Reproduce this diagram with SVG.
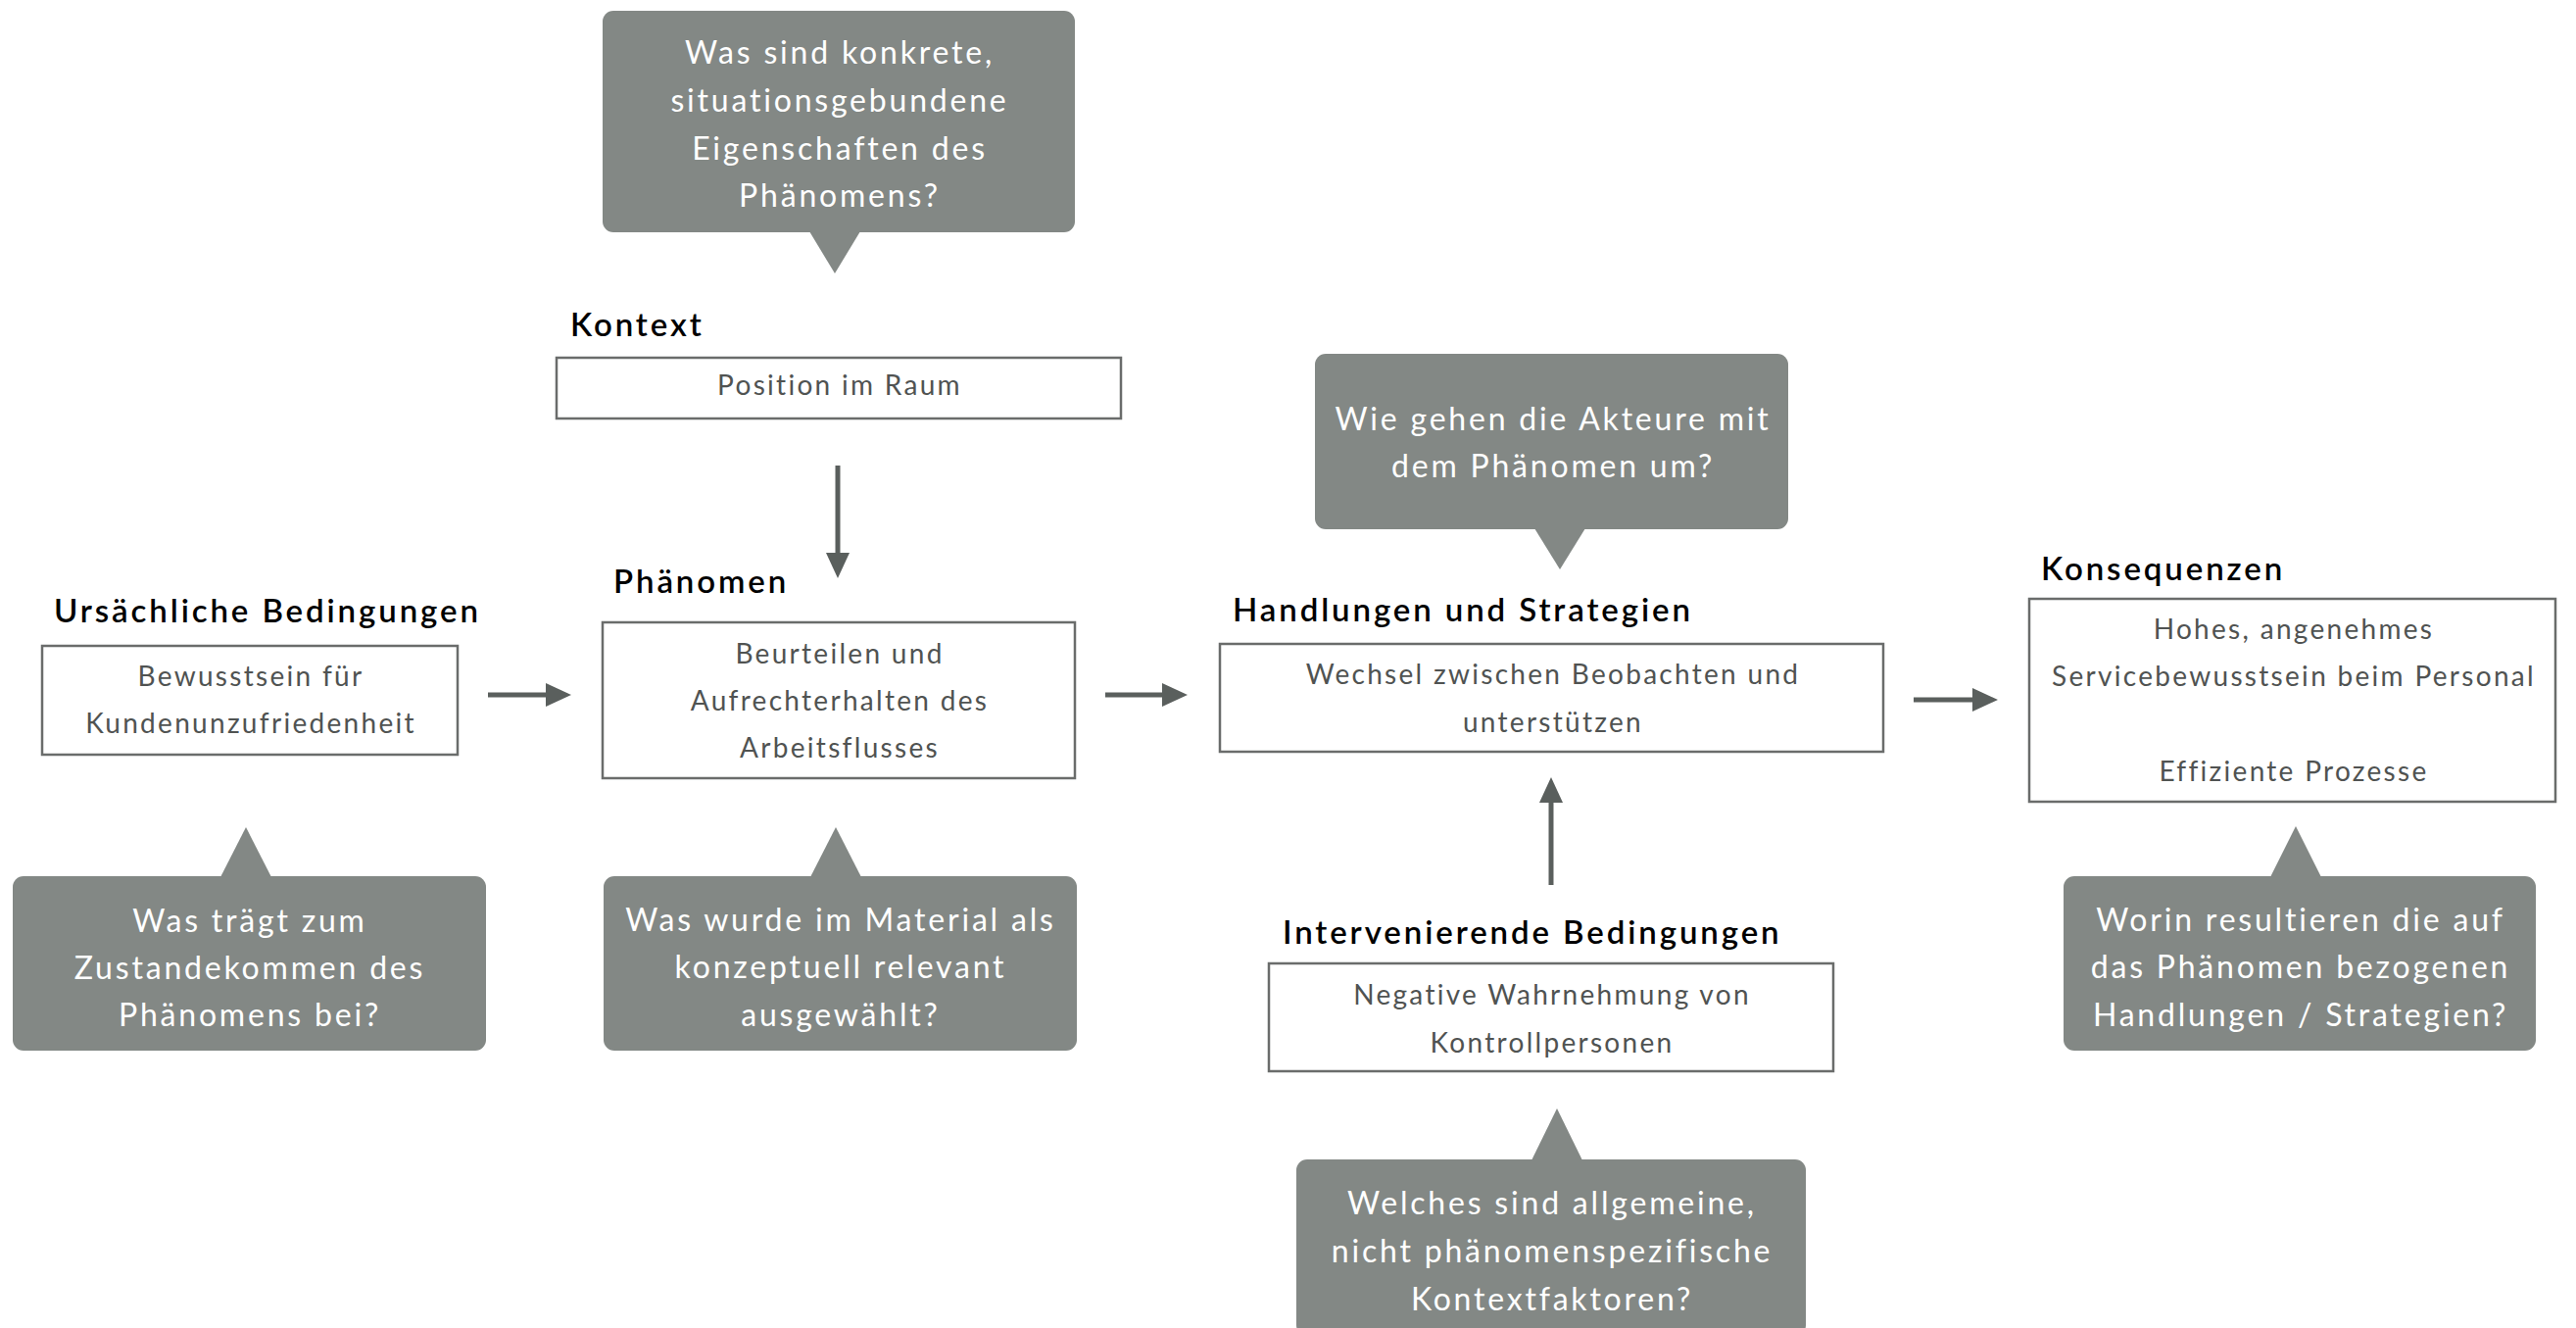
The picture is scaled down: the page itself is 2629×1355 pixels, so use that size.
<svg xmlns="http://www.w3.org/2000/svg" width="2629" height="1355" viewBox="0 0 2629 1355">
<defs>
<style>
.bubble{fill:#838885}
.bt{font-family:Lato,"Open Sans","DejaVu Sans",sans-serif;font-size:32px;fill:#ffffff;text-anchor:middle;letter-spacing:2.8px}
.box{fill:#ffffff;stroke:#6a6c6b;stroke-width:2.5}
.tt{font-family:Lato,"Open Sans","DejaVu Sans",sans-serif;font-size:28px;fill:#505352;text-anchor:middle;letter-spacing:2.3px}
.hd{font-family:Lato,"Open Sans","DejaVu Sans",sans-serif;font-size:33px;font-weight:600;fill:#000000;letter-spacing:2.9px}
.arr{stroke:#5a5f5d;stroke-width:5;fill:none;marker-end:url(#ah)}
</style>
<marker id="ah" markerUnits="userSpaceOnUse" markerWidth="28" markerHeight="26" refX="2" refY="12" orient="auto">
<path d="M0,0 L26,12 L0,24 z" fill="#5a5f5d"/>
</marker>
</defs>
<rect width="2629" height="1355" fill="#ffffff"/>

<g id="connectors">
<path class="arr" d="M855,475 V566"/>
<path class="arr" d="M498,709 H559"/>
<path class="arr" d="M1128,709 H1188"/>
<path class="arr" d="M1953,714 H2015"/>
<path class="arr" d="M1583,903 V817"/>
</g>

<g id="bubble-kontext">
<rect class="bubble" x="615" y="11" width="482" height="226" rx="11"/>
<path class="bubble" d="M826,236 L878,236 L852,279 z"/>
<text class="bt" x="857" y="65">Was sind konkrete,</text>
<text class="bt" x="857" y="114">situationsgebundene</text>
<text class="bt" x="857" y="163">Eigenschaften des</text>
<text class="bt" x="857" y="211">Phänomens?</text>
</g>

<g id="node-kontext">
<text class="hd" x="582" y="343">Kontext</text>
<rect class="box" x="568" y="365" width="576" height="62"/>
<text class="tt" x="857" y="403">Position im Raum</text>
</g>

<g id="node-ursaechliche">
<text class="hd" x="55" y="635">Ursächliche Bedingungen</text>
<rect class="box" x="43" y="659" width="424" height="111"/>
<text class="tt" x="256" y="700">Bewusstsein für</text>
<text class="tt" x="256" y="748">Kundenunzufriedenheit</text>
</g>

<g id="bubble-ursaechliche">
<path class="bubble" d="M225,895 L277,895 L251,844 z"/>
<rect class="bubble" x="13" y="894" width="483" height="178" rx="11"/>
<text class="bt" x="255" y="951">Was trägt zum</text>
<text class="bt" x="255" y="999">Zustandekommen des</text>
<text class="bt" x="255" y="1047">Phänomens bei?</text>
</g>

<g id="node-phaenomen">
<text class="hd" x="626" y="605">Phänomen</text>
<rect class="box" x="615" y="635" width="482" height="159"/>
<text class="tt" x="857" y="677">Beurteilen und</text>
<text class="tt" x="857" y="725">Aufrechterhalten des</text>
<text class="tt" x="857" y="773">Arbeitsflusses</text>
</g>

<g id="bubble-phaenomen">
<path class="bubble" d="M827,895 L879,895 L853,844 z"/>
<rect class="bubble" x="616" y="894" width="483" height="178" rx="11"/>
<text class="bt" x="858" y="950">Was wurde im Material als</text>
<text class="bt" x="858" y="998">konzeptuell relevant</text>
<text class="bt" x="858" y="1047">ausgewählt?</text>
</g>

<g id="bubble-handlungen">
<rect class="bubble" x="1342" y="361" width="483" height="179" rx="11"/>
<path class="bubble" d="M1566,539 L1618,539 L1592,581 z"/>
<text class="bt" x="1585" y="439">Wie gehen die Akteure mit</text>
<text class="bt" x="1585" y="487">dem Phänomen um?</text>
</g>

<g id="node-handlungen">
<text class="hd" x="1258" y="634">Handlungen und Strategien</text>
<rect class="box" x="1245" y="657" width="677" height="110"/>
<text class="tt" x="1585" y="698">Wechsel zwischen Beobachten und</text>
<text class="tt" x="1585" y="747">unterstützen</text>
</g>

<g id="node-intervenierende">
<text class="hd" x="1309" y="963">Intervenierende Bedingungen</text>
<rect class="box" x="1295" y="983" width="576" height="110"/>
<text class="tt" x="1584" y="1025">Negative Wahrnehmung von</text>
<text class="tt" x="1584" y="1074">Kontrollpersonen</text>
</g>

<g id="bubble-intervenierende">
<path class="bubble" d="M1563,1184 L1615,1184 L1589,1131 z"/>
<rect class="bubble" x="1323" y="1183" width="520" height="180" rx="11"/>
<text class="bt" x="1584" y="1239">Welches sind allgemeine,</text>
<text class="bt" x="1584" y="1288">nicht phänomenspezifische</text>
<text class="bt" x="1584" y="1337">Kontextfaktoren?</text>
</g>

<g id="node-konsequenzen">
<text class="hd" x="2083" y="592">Konsequenzen</text>
<rect class="box" x="2071" y="611" width="537" height="207"/>
<text class="tt" x="2341" y="652">Hohes, angenehmes</text>
<text class="tt" x="2341" y="700">Servicebewusstsein beim Personal</text>
<text class="tt" x="2341" y="797">Effiziente Prozesse</text>
</g>

<g id="bubble-konsequenzen">
<path class="bubble" d="M2317,895 L2369,895 L2343,843 z"/>
<rect class="bubble" x="2106" y="894" width="482" height="178" rx="11"/>
<text class="bt" x="2348" y="950">Worin resultieren die auf</text>
<text class="bt" x="2348" y="998">das Phänomen bezogenen</text>
<text class="bt" x="2348" y="1047">Handlungen / Strategien?</text>
</g>
</svg>
